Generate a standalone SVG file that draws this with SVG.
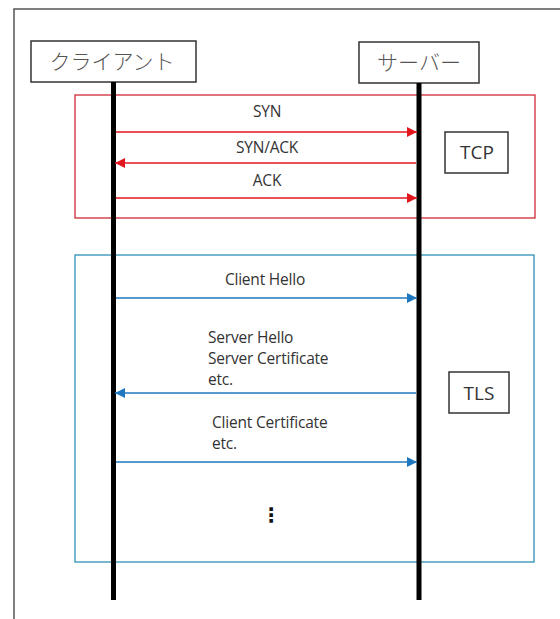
<svg xmlns="http://www.w3.org/2000/svg" width="560" height="619" viewBox="0 0 560 619">
<style>
.lbl{font-family:"Open Sans","Noto Sans",sans-serif;font-size:15.5px;fill:#333;letter-spacing:-0.2px}
.jp{font-family:"Noto Sans CJK JP","Noto Sans",sans-serif;font-size:21px;font-weight:300;fill:#555}
.tag{font-family:"Open Sans","Noto Sans",sans-serif;font-size:19px;fill:#333}
.box{fill:#fff;stroke:#333;stroke-width:1.5}
.life{stroke:#000;stroke-width:5}
.red{stroke:#e3161e;stroke-width:1.6;fill:none}
.blue{stroke:#1f78bf;stroke-width:1.6;fill:none}
</style>
<defs>
<marker id="ar" viewBox="0 0 10 10" refX="10" refY="5" markerWidth="11" markerHeight="10" markerUnits="userSpaceOnUse" orient="auto"><path d="M0,0 L10,5 L0,10 z" fill="#e3161e"/></marker>
<marker id="ab" viewBox="0 0 10 10" refX="10" refY="5" markerWidth="11" markerHeight="10" markerUnits="userSpaceOnUse" orient="auto"><path d="M0,0 L10,5 L0,10 z" fill="#1f78bf"/></marker>
</defs>
<rect x="0" y="0" width="560" height="619" fill="#fff"/>
<rect x="14" y="9" width="600" height="650" fill="none" stroke="#555" stroke-width="1.5"/>
<g id="tcp-group">
<rect x="75" y="95" width="460" height="123" fill="none" stroke="#d02a36" stroke-width="1.3"/>
</g>
<g id="tls-group">
<rect x="75" y="255" width="459" height="307" fill="none" stroke="#2f90b5" stroke-width="1.3"/>
</g>
<g id="client">
<rect class="box" x="31" y="41" width="165" height="41"/>
<text class="jp" x="112" y="69" text-anchor="middle">クライアント</text>
<line class="life" x1="113.5" y1="82" x2="113.5" y2="600"/>
</g>
<g id="server">
<rect class="box" x="359" y="42" width="120" height="41"/>
<text class="jp" x="419" y="70" text-anchor="middle">サーバー</text>
<line class="life" x1="419" y1="83" x2="419" y2="600"/>
</g>
<g id="tcp-label">
<rect class="box" x="445" y="132" width="63" height="41" stroke-width="1.2"/>
<text class="tag" x="477" y="159" text-anchor="middle">TCP</text>
</g>
<g id="tls-label">
<rect class="box" x="449" y="372" width="60" height="41" stroke-width="1.2"/>
<text class="tag" x="479" y="400" text-anchor="middle">TLS</text>
</g>
<g id="connectors">
<line class="red" x1="116" y1="132" x2="417" y2="132" marker-end="url(#ar)"/>
<text class="lbl" x="267" y="117" text-anchor="middle">SYN</text>
<line class="red" x1="416" y1="163" x2="115" y2="163" marker-end="url(#ar)"/>
<text class="lbl" x="267" y="153" text-anchor="middle">SYN/ACK</text>
<line class="red" x1="116" y1="198" x2="417" y2="198" marker-end="url(#ar)"/>
<text class="lbl" x="267" y="186" text-anchor="middle">ACK</text>
<line class="blue" x1="116" y1="298" x2="417" y2="298" marker-end="url(#ab)"/>
<text class="lbl" x="265" y="285" text-anchor="middle">Client Hello</text>
<line class="blue" x1="416" y1="393" x2="115" y2="393" marker-end="url(#ab)"/>
<text class="lbl" x="208" y="343">Server Hello</text>
<text class="lbl" x="208" y="364">Server Certificate</text>
<text class="lbl" x="208" y="385">etc.</text>
<line class="blue" x1="116" y1="462" x2="417" y2="462" marker-end="url(#ab)"/>
<text class="lbl" x="212" y="428">Client Certificate</text>
<text class="lbl" x="212" y="449">etc.</text>
<text x="271" y="522" text-anchor="middle" style="font-family:'DejaVu Sans',sans-serif;font-size:20px;font-weight:bold;fill:#111">⋮</text>
</g>
</svg>
